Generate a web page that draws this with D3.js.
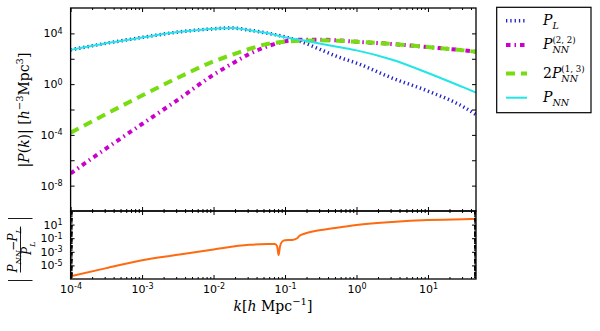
<!DOCTYPE html>
<html>
<head>
<meta charset="utf-8">
<script src="https://cdn.jsdelivr.net/npm/d3@7/dist/d3.min.js"></script>
<style>
  body { margin: 0; background: #fff; }
  svg { display: block; }
  .tick line { stroke: #000; }
  .domain { display: none; }
</style>
</head>
<body>
<div id="chart"></div>
<script>
// wavenumbers k [h/Mpc] used by the top panel curves
const kValues = [1e-4, 3.16e-4, 1e-3, 3.16e-3, 1e-2, 1.78e-2, 3.16e-2, 5.62e-2, 0.1, 0.178, 0.316, 0.562, 1, 3.16, 10, 31.6, 47];
const pLinear = [501, 1660, 4790, 12600, 22900, 26900, 17800, 10500, 5250, 1950, 513, 135, 45.7, 3.0, 0.282, 0.0158, 0.00398];
const pNN = [501, 1660, 4790, 12600, 22900, 26900, 17800, 10500, 5000, 2820, 1550, 832, 457, 83.2, 7.59, 0.55, 0.219];
const p22 = [9.1e-8, 8.7e-6, 7.2e-4, 0.0575, 5.5, 38, 234, 933, 2340, 3160, 3160, 2750, 2190, 1450, 832, 457, 355];
const p13x2 = [1.48e-4, 4.47e-3, 0.126, 3.16, 61.7, 200, 589, 1450, 2190, 2630, 2820, 2630, 2190, 1450, 832, 457, 355];

// bottom panel: |P_NN - P_L| / P_L
const kRatio = [1e-4, 3.16e-4, 1e-3, 3.16e-3, 1e-2, 3.16e-2, 5.62e-2, 7.24e-2, 7.76e-2, 8.13e-2, 8.51e-2, 9.12e-2, 0.1, 0.126, 0.148, 0.158, 0.191, 0.263, 0.5, 1, 3.16, 10, 31.6, 47];
const ratio = [2.5e-7, 4.0e-6, 5.75e-5, 3.55e-4, 2.19e-3, 0.0107, 0.0135, 0.0135, 6.3e-3, 3.2e-4, 6.3e-3, 0.0316, 0.05, 0.056, 0.1, 0.21, 0.5, 1.12, 3.16, 8.5, 24, 46.8, 63, 66];

const kTicks = [1e-4, 1e-3, 1e-2, 1e-1, 1e0, 1e1];
const topTicks = [1e-8, 1e-4, 1e0, 1e4];
const topMinor = [1e-6, 1e-2, 1e2];
const botTicks = [1e-5, 1e-3, 1e-1, 1e1];

const series = [
  { name: 'PL', values: pLinear, color: '#2020c8', width: 3.5, dash: '1.3,3' },
  { name: 'P22', values: p22, color: '#cc00cc', width: 4, dash: '4.5,4,1.5,4' },
  { name: 'P13', values: p13x2, color: '#77dd11', width: 4, dash: '9,6' },
  { name: 'PNN', values: pNN, color: '#22e6e6', width: 2, dash: null }
];

const W = 600, H = 331;
const left = 70.6, right = 476;
const topY0 = 8, topY1 = 211, botY1 = 279;

const svg = d3.select('#chart').append('svg').attr('width', W).attr('height', H);

const x = d3.scaleLog().domain([1e-4, 47]).range([left, right]);
const yTop = d3.scaleLog().domain([1e-10, 1e6]).range([topY1, topY0]);
const yBot = d3.scaleLog().domain([1e-7, 1e3]).range([botY1, topY1]);

// minor ticks 2..9 per decade
function minors(lo, hi) {
  const out = [];
  for (let e = lo; e < hi; e++) {
    for (let m = 2; m <= 9; m++) out.push(m * Math.pow(10, e));
  }
  return out;
}
const kMinor = minors(-4, 2).filter(v => v <= 47);
const botMinor = minors(-7, 3);
const botDecades = d3.range(-6, 3).map(e => Math.pow(10, e)).filter(v => botTicks.indexOf(v) < 0);

function powLabel(sel) {
  sel.selectAll('text').each(function (d) {
    const t = d3.select(this);
    const e = Math.round(Math.log10(d));
    t.text(null);
    t.append('tspan').text('10');
    t.append('tspan').attr('dy', '-0.45em').attr('font-size', '8px').text(e);
  });
}

function drawAxis(g, axis, labels) {
  g.call(axis);
  g.selectAll('text').attr('font-family', 'DejaVu Sans').attr('font-size', '11px').attr('fill', '#000');
  if (labels) powLabel(g); else g.selectAll('text').remove();
}

function axesFor(y, y0, y1, majorY, minorY, minorLen) {
  // x ticks bottom and top (inward)
  const gx = svg.append('g').attr('transform', `translate(0,${y1})`);
  drawAxis(gx, d3.axisBottom(x).tickValues(kTicks).tickSize(-4).tickPadding(6), y1 === botY1);
  svg.append('g').attr('transform', `translate(0,${y1})`)
    .call(d3.axisBottom(x).tickValues(kMinor).tickSize(-2).tickFormat(''));
  svg.append('g').attr('transform', `translate(0,${y0})`)
    .call(d3.axisTop(x).tickValues(kTicks).tickSize(-4).tickFormat(''));
  svg.append('g').attr('transform', `translate(0,${y0})`)
    .call(d3.axisTop(x).tickValues(kMinor).tickSize(-2).tickFormat(''));
  // y ticks left and right
  const gy = svg.append('g').attr('transform', `translate(${left},0)`);
  drawAxis(gy, d3.axisLeft(y).tickValues(majorY).tickSize(-4).tickPadding(8), true);
  svg.append('g').attr('transform', `translate(${right},0)`)
    .call(d3.axisRight(y).tickValues(majorY).tickSize(-4).tickFormat(''));
  svg.append('g').attr('transform', `translate(${left},0)`)
    .call(d3.axisLeft(y).tickValues(minorY).tickSize(-minorLen).tickFormat(''));
  svg.append('g').attr('transform', `translate(${right},0)`)
    .call(d3.axisRight(y).tickValues(minorY).tickSize(-minorLen).tickFormat(''));
}

// top panel curves
svg.append('clipPath').attr('id', 'clipTop')
  .append('rect').attr('x', left).attr('y', topY0).attr('width', right - left).attr('height', topY1 - topY0);

const line = d3.line()
  .x((d, i) => x(kValues[i]))
  .y(d => yTop(d))
  .curve(d3.curveMonotoneX);

const curves = svg.append('g').attr('clip-path', 'url(#clipTop)');
series.forEach(s => {
  curves.append('path')
    .attr('d', line(s.values))
    .attr('fill', 'none')
    .attr('stroke', s.color)
    .attr('stroke-width', s.width)
    .attr('stroke-dasharray', s.dash);
});

// bottom panel curve
svg.append('clipPath').attr('id', 'clipBot')
  .append('rect').attr('x', left).attr('y', topY1).attr('width', right - left).attr('height', botY1 - topY1);
const ratioLine = d3.line()
  .x((d, i) => x(kRatio[i]))
  .y(d => yBot(d))
  .curve(d3.curveMonotoneX);
svg.append('path')
  .attr('clip-path', 'url(#clipBot)')
  .attr('d', ratioLine(ratio))
  .attr('fill', 'none')
  .attr('stroke', '#ff6a10')
  .attr('stroke-width', 2);

axesFor(yTop, topY0, topY1, topTicks, topMinor, 4);
axesFor(yBot, topY1, botY1, botTicks, botMinor.concat(botDecades), 2);

// frames
svg.append('rect').attr('x', left).attr('y', topY0).attr('width', right - left).attr('height', topY1 - topY0)
  .attr('fill', 'none').attr('stroke', '#000').attr('stroke-width', 1.3);
svg.append('rect').attr('x', left).attr('y', topY1).attr('width', right - left).attr('height', botY1 - topY1)
  .attr('fill', 'none').attr('stroke', '#000').attr('stroke-width', 1.3);

// math-ish text helper: base, subscript, superscript
const serif = 'DejaVu Serif';
function mathSym(g, x0, y0, prefix, base, sub, sup, size) {
  const t = g.append('text').attr('x', x0).attr('y', y0)
    .attr('font-family', serif).attr('font-size', size + 'px');
  if (prefix) t.append('tspan').text(prefix);
  t.append('tspan').attr('font-style', 'italic').text(base);
  const w = t.node().getComputedTextLength();
  if (sub) {
    g.append('text').attr('x', x0 + w).attr('y', y0 + size * 0.3)
      .attr('font-family', serif).attr('font-style', 'italic').attr('font-size', (size * 0.68) + 'px').text(sub);
  }
  if (sup) {
    g.append('text').attr('x', x0 + w).attr('y', y0 - size * 0.42)
      .attr('font-family', serif).attr('font-size', (size * 0.62) + 'px').text(sup);
  }
}

// legend
const legend = svg.append('g');
legend.append('rect').attr('x', 496.7).attr('y', 7.3).attr('width', 94.3).attr('height', 105.4)
  .attr('fill', '#fff').attr('stroke', '#000').attr('stroke-width', 1.2);
const rowY = [20.7, 45, 73.5, 97.7];
const labels = [
  { prefix: '', base: 'P', sub: 'L', sup: '' },
  { prefix: '', base: 'P', sub: 'NN', sup: '(2, 2)' },
  { prefix: '2', base: 'P', sub: 'NN', sup: '(1, 3)' },
  { prefix: '', base: 'P', sub: 'NN', sup: '' }
];
series.forEach((s, i) => {
  legend.append('line').attr('x1', 506).attr('x2', 527).attr('y1', rowY[i]).attr('y2', rowY[i])
    .attr('stroke', s.color).attr('stroke-width', s.width).attr('stroke-dasharray', s.dash);
  const l = labels[i];
  mathSym(legend, 543, rowY[i] + 4, l.prefix, l.base, l.sub, l.sup, 14);
});

// y label top panel
const yl = svg.append('text')
  .attr('transform', 'translate(29,110) rotate(-90)')
  .attr('text-anchor', 'middle')
  .attr('font-family', serif).attr('font-size', '14px');
yl.append('tspan').text('|');
yl.append('tspan').attr('font-style', 'italic').text('P');
yl.append('tspan').text('(');
yl.append('tspan').attr('font-style', 'italic').text('k');
yl.append('tspan').text(')| [');
yl.append('tspan').attr('font-style', 'italic').text('h');
yl.append('tspan').attr('dy', -6).attr('font-size', '10px').text('−3');
yl.append('tspan').attr('dy', 6).text('Mpc');
yl.append('tspan').attr('dy', -6).attr('font-size', '10px').text('3');
yl.append('tspan').attr('dy', 6).text(']');

// y label bottom panel: |(P_NN - P_L)/P_L|
const fr = svg.append('g').attr('transform', 'translate(20.5,249.5) rotate(-90)');
fr.append('line').attr('x1', -23).attr('x2', 23).attr('y1', 0).attr('y2', 0).attr('stroke', '#000').attr('stroke-width', 0.9);
[-31, 31].forEach(v => fr.append('line').attr('x1', v).attr('x2', v).attr('y1', -12.5).attr('y2', 12)
  .attr('stroke', '#000').attr('stroke-width', 0.9));
const num = fr.append('g');
mathSym(num, -23, -3.5, '', 'P', 'NN', '', 12);
num.append('text').attr('x', -1.5).attr('y', -3.5).attr('font-family', serif).attr('font-size', '12px').text('−');
mathSym(num, 8, -3.5, '', 'P', 'L', '', 12);
mathSym(fr, -5.5, 10.5, '', 'P', 'L', '', 12);

// x label
const xl = svg.append('text').attr('x', 273).attr('y', 311).attr('text-anchor', 'middle')
  .attr('font-family', serif).attr('font-size', '14px');
xl.append('tspan').attr('font-style', 'italic').text('k');
xl.append('tspan').text('[');
xl.append('tspan').attr('font-style', 'italic').text('h');
xl.append('tspan').text(' Mpc');
xl.append('tspan').attr('dy', -6).attr('font-size', '10px').text('−1');
xl.append('tspan').attr('dy', 6).text(']');
</script>
</body>
</html>
